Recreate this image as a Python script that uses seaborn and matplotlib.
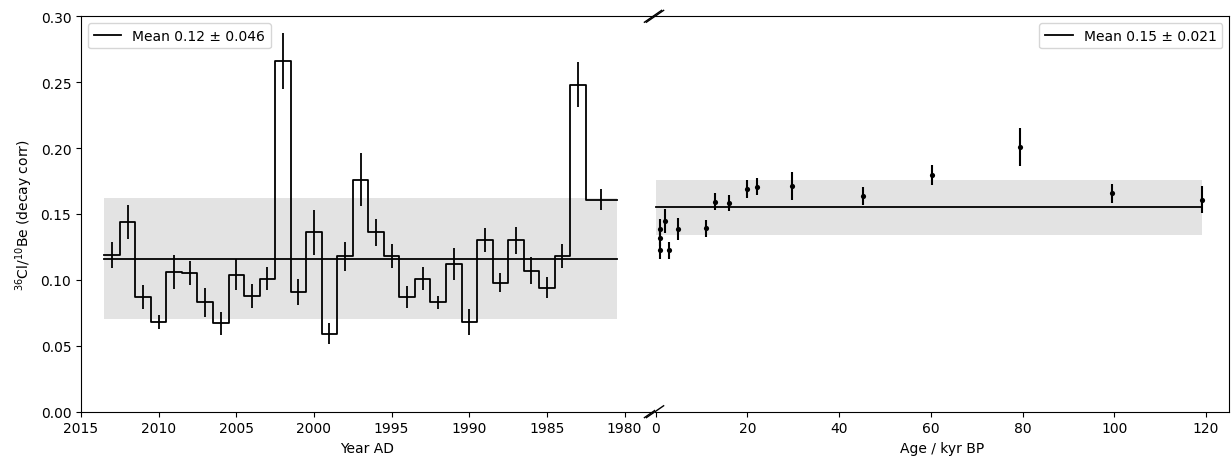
import numpy as np
import pandas as pd
import matplotlib
matplotlib.use("Agg")
import matplotlib.pyplot as plt
import seaborn as sns

# ---- Recent (annual) data, left panel ----
years = [2013, 2012, 2011, 2010, 2009, 2008, 2007, 2006, 2005, 2004, 2003,
         2002, 2001, 2000, 1999, 1998, 1997, 1996, 1995, 1994, 1993, 1992,
         1991, 1990, 1989, 1988, 1987, 1986, 1985, 1984, 1983, 1981.5]
bin_edges = [2013.5, 2012.5, 2011.5, 2010.5, 2009.5, 2008.5, 2007.5, 2006.5,
             2005.5, 2004.5, 2003.5, 2002.5, 2001.5, 2000.5, 1999.5, 1998.5,
             1997.5, 1996.5, 1995.5, 1994.5, 1993.5, 1992.5, 1991.5, 1990.5,
             1989.5, 1988.5, 1987.5, 1986.5, 1985.5, 1984.5, 1983.5, 1982.5,
             1980.5]
ratio_recent = [0.119, 0.144, 0.087, 0.068, 0.106, 0.105, 0.083, 0.067, 0.104,
                0.088, 0.101, 0.266, 0.091, 0.136, 0.059, 0.118, 0.176, 0.136,
                0.118, 0.087, 0.101, 0.083, 0.112, 0.068, 0.130, 0.098, 0.130,
                0.107, 0.094, 0.118, 0.248, 0.161]
err_recent = [0.010, 0.013, 0.009, 0.005, 0.013, 0.009, 0.011, 0.009, 0.012,
              0.009, 0.009, 0.021, 0.010, 0.017, 0.008, 0.011, 0.020, 0.010,
              0.009, 0.008, 0.009, 0.005, 0.012, 0.010, 0.009, 0.007, 0.010,
              0.010, 0.008, 0.009, 0.017, 0.008]
mean_recent = 0.116
sd_recent = 0.046

# ---- Ice core / old data, right panel ----
ages = [0.9, 0.9, 0.9, 2.0, 2.9, 4.9, 11.0, 13.0, 16.0, 20.0, 22.0, 29.8,
        45.2, 60.2, 79.4, 99.4, 119.1]
ratio_old = [0.1385, 0.132, 0.1225, 0.1446, 0.1225, 0.1385, 0.139, 0.1593,
             0.1583, 0.169, 0.1708, 0.1712, 0.1636, 0.1796, 0.2007, 0.1657,
             0.1609]
err_old = [0.0076, 0.006, 0.0063, 0.0089, 0.0063, 0.0086, 0.0062, 0.0065,
           0.0058, 0.0065, 0.0062, 0.0109, 0.0067, 0.0075, 0.0143, 0.0074,
           0.0105]
mean_old = 0.155
sd_old = 0.021

year_ticks = [2015, 2010, 2005, 2000, 1995, 1990, 1985, 1980]
age_ticks = [0, 20, 40, 60, 80, 100, 120]

W, H = 1231, 464
fig = plt.figure(figsize=(W / 100, H / 100), dpi=100)
bottom = 1 - 412.7 / H
height = (412.7 - 17.3) / H
ax1 = fig.add_axes([81 / W, bottom, (653 - 81) / W, height])
ax2 = fig.add_axes([655 / W, bottom, (1229.3 - 655) / W, height], sharey=ax1)

fill_col = "#e3e3e3"

# Left panel
lo, hi = min(bin_edges), max(bin_edges)
ax1.fill_between([lo, hi], mean_recent - sd_recent, mean_recent + sd_recent,
                 color=fill_col, lw=0, zorder=0)
ax1.plot([lo, hi], [mean_recent, mean_recent], color="k", lw=1.3,
         label=f"Mean {mean_recent:.2f} \u00b1 {sd_recent:.3f}", zorder=2)
step_df = pd.DataFrame({"x": bin_edges, "y": ratio_recent + [ratio_recent[-1]]})
sns.lineplot(data=step_df, x="x", y="y", drawstyle="steps-post", color="k",
             lw=1.3, ax=ax1, estimator=None, sort=False, zorder=3)
ax1.errorbar(years, ratio_recent, yerr=err_recent, fmt="none", ecolor="k",
             elinewidth=1.3, zorder=3)
ax1.set_xlim(2015, 1978.17)
ax1.set_xticks(year_ticks)
ax1.set_ylim(0, 0.30)
ax1.set_yticks(np.arange(0, 0.301, 0.05))
ax1.yaxis.set_major_formatter(matplotlib.ticker.FormatStrFormatter("%.2f"))
ax1.set_xlabel("Year AD")
ax1.set_ylabel(r"$^{36}$Cl/$^{10}$Be (decay corr)")
ax1.spines["right"].set_visible(False)
ax1.legend(loc="upper left")

# Right panel
amax = max(ages)
ax2.fill_between([0, amax], mean_old - sd_old, mean_old + sd_old,
                 color=fill_col, lw=0, zorder=0)
ax2.plot([0, amax], [mean_old, mean_old], color="k", lw=1.3,
         label=f"Mean {mean_old:.2f} \u00b1 {sd_old:.3f}", zorder=2)
ax2.errorbar(ages, ratio_old, yerr=err_old, fmt="none", ecolor="k",
             elinewidth=1.5, zorder=3)
sns.scatterplot(x=ages, y=ratio_old, color="k", s=14, ax=ax2, zorder=4,
                edgecolor="k", linewidth=0)
ax2.set_xlim(-0.15, 125.08)
ax2.set_xticks(age_ticks)
ax2.set_xlabel("Age / kyr BP")
ax2.set_ylabel("")
ax2.spines["left"].set_visible(False)
ax2.tick_params(axis="y", left=False, labelleft=False)
ax2.legend(loc="upper right")

# Break marks
d = 0.015
kw = dict(color="k", clip_on=False, lw=1)
ax1.plot((1 - d, 1 + d), (-d, +d), transform=ax1.transAxes, **kw)
ax1.plot((1 - d, 1 + d), (1 - d, 1 + d), transform=ax1.transAxes, **kw)
ax2.plot((-d, +d), (-d, +d), transform=ax2.transAxes, **kw)
ax2.plot((-d, +d), (1 - d, 1 + d), transform=ax2.transAxes, **kw)

fig.savefig("out.png", dpi=100)
